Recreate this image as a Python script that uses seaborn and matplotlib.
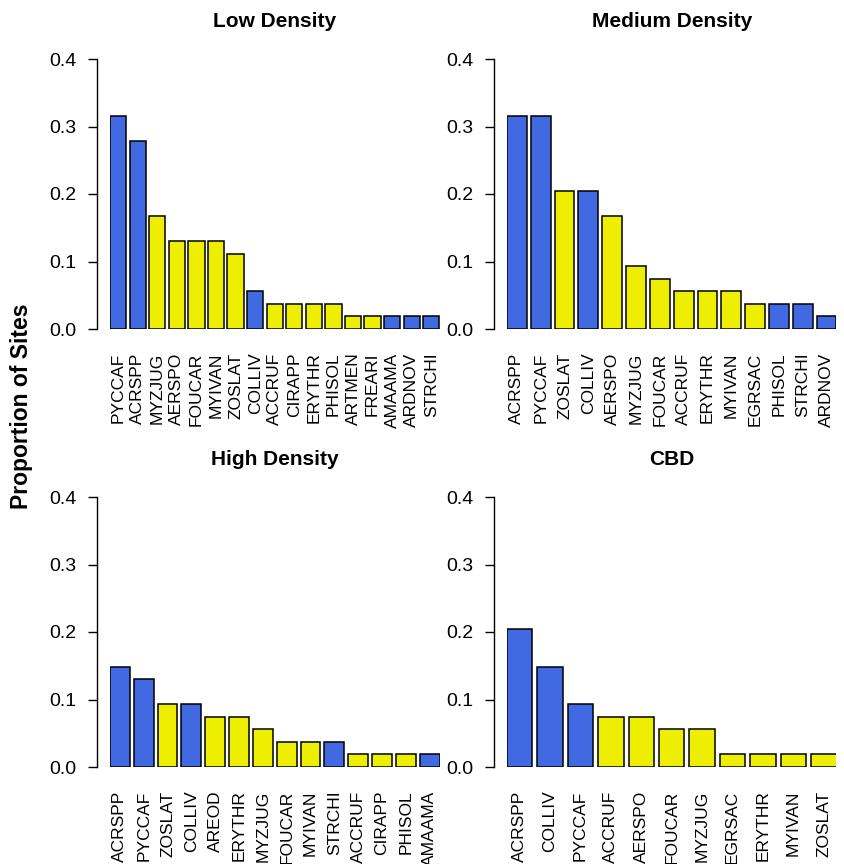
import numpy as np
import matplotlib
matplotlib.use("Agg")
import matplotlib.pyplot as plt
import seaborn as sns

# data per density class (proportion of sites)
low_names = ['PYCCAF', 'ACRSPP', 'MYZJUG', 'AERSPO', 'FOUCAR', 'MYIVAN', 'ZOSLAT', 'COLLIV', 'ACCRUF',
             'CIRAPP', 'ERYTHR', 'PHISOL', 'ARTMEN', 'FREARI', 'AMAAMA', 'ARDNOV', 'STRCHI']
low_vals = [0.315, 0.278, 0.167, 0.130, 0.130, 0.130, 0.111, 0.056, 0.037,
            0.037, 0.037, 0.037, 0.019, 0.019, 0.019, 0.019, 0.019]
low_status = ['introduced', 'introduced', 'native', 'native', 'native', 'native', 'native', 'introduced', 'native',
              'native', 'native', 'native', 'native', 'native', 'introduced', 'introduced', 'introduced']

med_names = ['ACRSPP', 'PYCCAF', 'ZOSLAT', 'COLLIV', 'AERSPO', 'MYZJUG', 'FOUCAR', 'ACCRUF', 'ERYTHR',
             'MYIVAN', 'EGRSAC', 'PHISOL', 'STRCHI', 'ARDNOV']
med_vals = [0.315, 0.315, 0.204, 0.204, 0.167, 0.093, 0.074, 0.056, 0.056,
            0.056, 0.037, 0.037, 0.037, 0.019]
med_status = ['introduced', 'introduced', 'native', 'introduced', 'native', 'native', 'native', 'native', 'native',
              'native', 'native', 'introduced', 'introduced', 'introduced']

high_names = ['ACRSPP', 'PYCCAF', 'ZOSLAT', 'COLLIV', 'AREOD', 'ERYTHR', 'MYZJUG', 'FOUCAR', 'MYIVAN',
              'STRCHI', 'ACCRUF', 'CIRAPP', 'PHISOL', 'AMAAMA']
high_vals = [0.148, 0.130, 0.093, 0.093, 0.074, 0.074, 0.056, 0.037, 0.037,
             0.037, 0.019, 0.019, 0.019, 0.019]
high_status = ['introduced', 'introduced', 'native', 'introduced', 'native', 'native', 'native', 'native', 'native',
               'introduced', 'native', 'native', 'native', 'introduced']

cbd_names = ['ACRSPP', 'COLLIV', 'PYCCAF', 'ACCRUF', 'AERSPO', 'FOUCAR', 'MYZJUG', 'EGRSAC', 'ERYTHR',
             'MYIVAN', 'ZOSLAT']
cbd_vals = [0.204, 0.148, 0.093, 0.074, 0.074, 0.056, 0.056, 0.019, 0.019,
            0.019, 0.019]
cbd_status = ['introduced', 'introduced', 'introduced', 'native', 'native', 'native', 'native', 'native', 'native',
              'native', 'native']

titles = ['Low Density', 'Medium Density', 'High Density', 'CBD']
yticks = [0.0, 0.1, 0.2, 0.3, 0.4]

panels = [(low_names, low_vals, low_status), (med_names, med_vals, med_status),
          (high_names, high_vals, high_status), (cbd_names, cbd_vals, cbd_status)]

status_colors = {'introduced': '#4169E1', 'native': '#EEEE00'}

plt.rcParams['font.family'] = ['Liberation Sans', 'DejaVu Sans']

W, H = 844, 864
fig = plt.figure(figsize=(W / 100, H / 100), dpi=100)

# pixel boxes for the bar area: (left, right, top, bottom)
boxes = [(110, 439.5, 59, 329), (507, 836.5, 59, 329),
         (110, 439.5, 497, 767), (507, 836.5, 497, 767)]
spine_off = 13  # px, axis line sits left of the first bar
bw = 1 / 1.2

for (names, vals, status), title, (l, r, t, b) in zip(panels, titles, boxes):
    ax = fig.add_axes([l / W, 1 - b / H, (r - l) / W, (b - t) / H])
    cols = [status_colors[s] for s in status]
    sns.barplot(x=names, y=vals, hue=names, order=names, hue_order=names,
                palette=cols, legend=False, width=bw, edgecolor='black',
                linewidth=1.1, saturation=1, ax=ax)
    n = len(names)
    ax.set_xlim(-bw / 2, n - 1 + bw / 2)
    ax.set_ylim(0, 0.4)
    ax.set_yticks(yticks)
    ax.set_yticklabels(['0.0', '0.1', '0.2', '0.3', '0.4'])
    ax.tick_params(axis='y', length=6.8, width=1, labelsize=14, pad=8)
    ax.tick_params(axis='x', length=0, labelsize=12.5, pad=17, rotation=90)
    for sp in ['top', 'right', 'bottom']:
        ax.spines[sp].set_visible(False)
    ax.spines['left'].set_position(('outward', spine_off * 72 / 100))
    ax.spines['left'].set_linewidth(1)
    ax.set_facecolor('none')
    ax.set_xlabel('')
    ax.set_ylabel('')
    # title centred over the full panel region
    cx = ((l - spine_off) + (r + spine_off)) / 2
    fig.text(cx / W, 1 - (t - 32) / H, title, ha='center', va='baseline',
             fontsize=15, fontweight='bold')

fig.text(22 / W, 1 - 406 / H, 'Proportion of Sites', rotation=90, ha='center', va='center',
         fontsize=16.5, fontweight='bold')

fig.savefig('out.png', dpi=100, facecolor='white')
